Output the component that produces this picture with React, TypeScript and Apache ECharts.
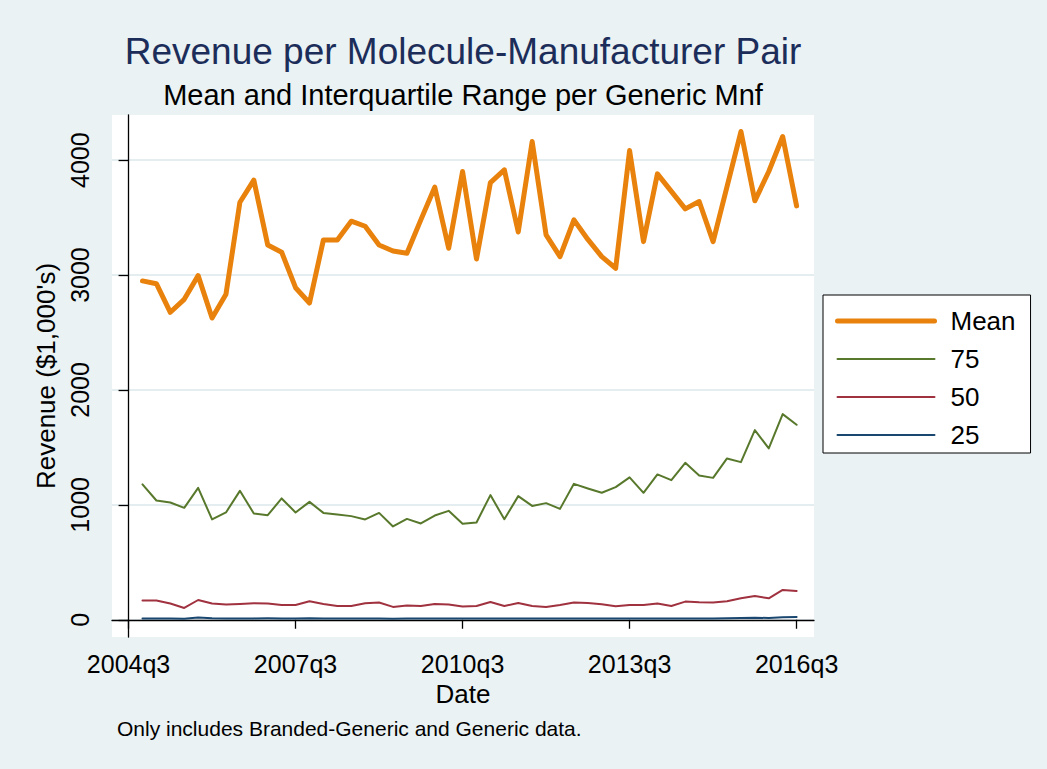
import React, { useEffect, useRef } from 'react';
import * as echarts from 'echarts';

const quarters = [
  '2004q4', '2005q1', '2005q2', '2005q3', '2005q4', '2006q1', '2006q2', '2006q3',
  '2006q4', '2007q1', '2007q2', '2007q3', '2007q4', '2008q1', '2008q2', '2008q3',
  '2008q4', '2009q1', '2009q2', '2009q3', '2009q4', '2010q1', '2010q2', '2010q3',
  '2010q4', '2011q1', '2011q2', '2011q3', '2011q4', '2012q1', '2012q2', '2012q3',
  '2012q4', '2013q1', '2013q2', '2013q3', '2013q4', '2014q1', '2014q2', '2014q3',
  '2014q4', '2015q1', '2015q2', '2015q3', '2015q4', '2016q1', '2016q2', '2016q3',
];

const meanValues = [
  2949, 2925, 2676, 2789, 2995, 2626, 2833, 3634, 3826, 3262,
  3199, 2890, 2757, 3306, 3306, 3469, 3425, 3262, 3210, 3190,
  3480, 3765, 3233, 3901, 3140, 3805, 3916, 3375, 4162, 3349,
  3160, 3480, 3310, 3160, 3059, 4084, 3291, 3881, 3728, 3576,
  3640, 3291, 3770, 4249, 3646, 3901, 4206, 3602,
];

const p75Values = [
  1178, 1038, 1021, 974, 1148, 873, 934, 1122, 925, 910,
  1056, 934, 1026, 930, 916, 902, 873, 930, 812, 878,
  838, 907, 948, 835, 847, 1085, 875, 1076, 991, 1015,
  965, 1183, 1143, 1105, 1154, 1239, 1105, 1265, 1215, 1366,
  1256, 1235, 1404, 1372, 1651, 1491, 1790, 1697,
];

const p50Values = [
  167, 167, 141, 103, 172, 141, 132, 137, 143, 141,
  129, 129, 161, 138, 120, 120, 143, 150, 112, 124,
  120, 138, 132, 115, 120, 155, 120, 146, 120, 112,
  129, 150, 146, 135, 118, 129, 129, 141, 120, 158,
  152, 150, 161, 187, 207, 187, 260, 251,
];

const p25Values = [
  12, 12, 11, 9, 19, 14, 12, 11, 12, 13,
  12, 12, 13, 11, 10, 10, 11, 12, 9, 10,
  10, 11, 11, 10, 11, 12, 11, 12, 11, 10,
  10, 10, 10, 10, 10, 11, 11, 11, 11, 11,
  11, 12, 13, 15, 17, 16, 22, 24,
];

const xTickLabels = ['2004q3', '2007q3', '2010q3', '2013q3', '2016q3'];
const yTickValues = [0, 1000, 2000, 3000, 4000];

const seriesNames = ['Mean', '75', '50', '25'];
const seriesColors = ['#E8820C', '#58782C', '#A0313F', '#1A476F'];
const seriesWidths = [5, 2, 2, 2];

const titleText = 'Revenue per Molecule-Manufacturer Pair';
const subtitleText = 'Mean and Interquartile Range per Generic Mnf';
const noteText = 'Only includes Branded-Generic and Generic data.';

function qIndex(s: string): number {
  const y = parseInt(s.slice(0, 4), 10);
  const q = parseInt(s.slice(5), 10);
  return (y - 2004) * 4 + (q - 3);
}

const FONT = "'Liberation Sans', Arial, Helvetica, sans-serif";

export default function App() {
  const ref = useRef<HTMLDivElement>(null);

  useEffect(() => {
    document.body.style.margin = '0';
    const chart = echarts.init(ref.current!, null, { renderer: 'svg' });
    const toData = (vals: number[]) => quarters.map((q, i) => [qIndex(q), vals[i]]);
    const tickIdx = xTickLabels.map(qIndex);
    const allValues = [meanValues, p75Values, p50Values, p25Values];

    const option: any = {
      animation: false,
      backgroundColor: '#EAF2F3',
      textStyle: { fontFamily: FONT },
      grid: {
        left: 112,
        top: 115,
        width: 702,
        height: 522,
        show: true,
        backgroundColor: '#FFFFFF',
        borderWidth: 0,
      },
      graphic: [
        {
          type: 'text',
          x: 463,
          y: 51,
          style: {
            text: titleText,
            fill: '#1C2D5A',
            font: `37px ${FONT}`,
            textAlign: 'center',
            textVerticalAlign: 'middle',
          },
        },
        {
          type: 'text',
          x: 463,
          y: 95,
          style: {
            text: subtitleText,
            fill: '#000000',
            font: `29px ${FONT}`,
            textAlign: 'center',
            textVerticalAlign: 'middle',
          },
        },
        {
          type: 'text',
          x: 117,
          y: 728,
          style: {
            text: noteText,
            fill: '#000000',
            font: `21px ${FONT}`,
            textAlign: 'left',
            textVerticalAlign: 'middle',
          },
        },
      ],
      legend: {
        orient: 'vertical',
        left: 823,
        top: 295,
        data: seriesNames.map((name, i) => ({
          name,
          lineStyle: { color: seriesColors[i], width: seriesWidths[i] },
        })),
        backgroundColor: '#FFFFFF',
        borderColor: '#000000',
        borderWidth: 1,
        padding: [11, 15, 3, 12],
        itemWidth: 97,
        itemHeight: 14,
        itemGap: 8,
        itemStyle: { opacity: 0 },
        textStyle: {
          fontSize: 26,
          color: '#000000',
          fontFamily: FONT,
          lineHeight: 30,
          padding: [0, 0, 0, 11],
        },
      },
      xAxis: {
        type: 'value',
        min: -1.19,
        max: 49.25,
        name: 'Date',
        nameLocation: 'middle',
        nameGap: 42,
        nameTextStyle: { fontSize: 26, color: '#000000', fontFamily: FONT },
        axisLine: { show: true, lineStyle: { color: '#000000', width: 1.3 } },
        axisTick: { show: true, customValues: tickIdx, length: 9, lineStyle: { color: '#000000', width: 1.3 } },
        axisLabel: {
          customValues: tickIdx,
          margin: 14,
          fontSize: 25,
          color: '#000000',
          fontFamily: FONT,
          formatter: (v: number) => {
            const k = tickIdx.indexOf(Math.round(v));
            return k >= 0 ? xTickLabels[k] : '';
          },
        },
        splitLine: { show: false },
      },
      yAxis: {
        type: 'value',
        min: -150,
        max: 4393,
        name: "Revenue ($1,000's)",
        nameLocation: 'middle',
        nameGap: 52,
        nameTextStyle: { fontSize: 26, color: '#000000', fontFamily: FONT },
        axisLine: { show: true, lineStyle: { color: '#000000', width: 1.3 } },
        axisTick: { show: true, customValues: yTickValues, length: 10, lineStyle: { color: '#000000', width: 1.3 } },
        axisLabel: {
          customValues: yTickValues,
          rotate: 90,
          margin: 20,
          fontSize: 25,
          color: '#000000',
          fontFamily: FONT,
          formatter: (v: number) => String(v),
        },
        splitLine: { show: true, lineStyle: { color: '#E4EDF0', width: 2 } },
      },
      series: seriesNames.map((name, i) => ({
        name,
        type: 'line',
        data: toData(allValues[i]),
        symbol: 'none',
        color: seriesColors[i],
        lineStyle: { color: seriesColors[i], width: seriesWidths[i], cap: 'round', join: 'round' },
        z: 2 + (seriesNames.length - i),
      })),
    };

    chart.setOption(option);
    return () => chart.dispose();
  }, []);

  return <div ref={ref} style={{ width: 1047, height: 769 }} />;
}
